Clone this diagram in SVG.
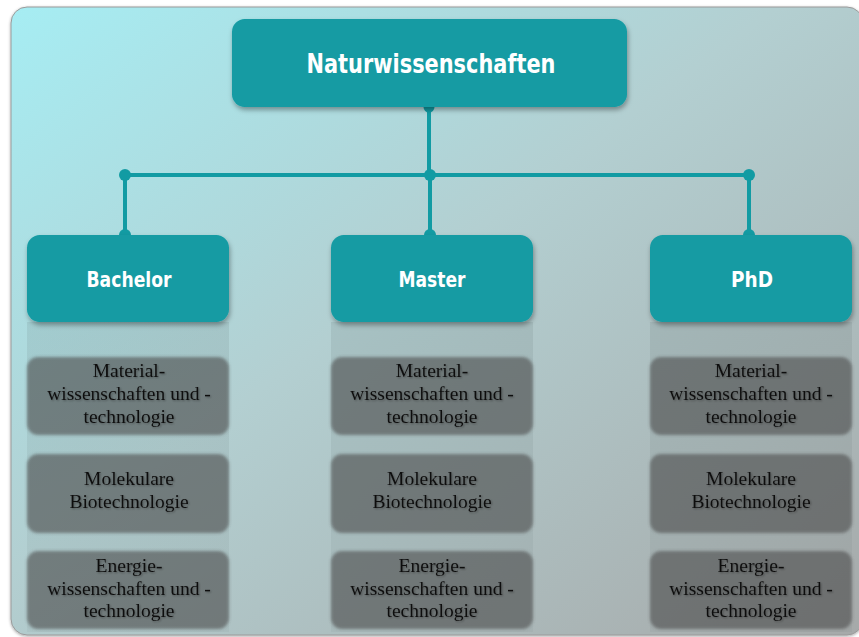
<svg xmlns="http://www.w3.org/2000/svg" width="859" height="637" viewBox="0 0 859 637">
  <defs>
    <linearGradient id="panelFill" x1="0" y1="0" x2="1" y2="1">
      <stop offset="0" stop-color="#a6edf3"/>
      <stop offset="0.45" stop-color="#b3cfd1"/>
      <stop offset="1" stop-color="#a6a9a9"/>
    </linearGradient>
    <linearGradient id="columnFade" x1="0" y1="0" x2="0" y2="1">
      <stop offset="0" stop-color="#4a5a5a" stop-opacity="0.12"/>
      <stop offset="1" stop-color="#4a5a5a" stop-opacity="0.06"/>
    </linearGradient>
    <filter id="panelShadow" x="-5%" y="-5%" width="110%" height="110%">
      <feDropShadow dx="0" dy="1" stdDeviation="1.5" flood-color="#000" flood-opacity="0.35"/>
    </filter>
    <filter id="boxShadow" x="-10%" y="-20%" width="120%" height="150%">
      <feDropShadow dx="1" dy="3" stdDeviation="2.5" flood-color="#000" flood-opacity="0.35"/>
    </filter>
    <filter id="soft" x="-10%" y="-20%" width="120%" height="140%">
      <feGaussianBlur stdDeviation="1.6"/>
    </filter>
    <filter id="textGlow" x="-10%" y="-30%" width="120%" height="160%">
      <feGaussianBlur in="SourceAlpha" stdDeviation="1.2" result="b"/>
      <feOffset dx="0.5" dy="1" in="b" result="o"/>
      <feComponentTransfer in="o" result="s"><feFuncA type="linear" slope="0.35"/></feComponentTransfer>
      <feMerge><feMergeNode in="s"/><feMergeNode in="SourceGraphic"/></feMerge>
    </filter>
    <style>
      .teal { fill: #129ba3; }
      .head { font-family: "DejaVu Sans", Verdana, sans-serif; font-weight: bold; fill: #ffffff; text-anchor: middle; }
      .sub { fill: #4c4c4c; fill-opacity: 0.6; }
      .subText { font-family: "Liberation Serif", "Times New Roman", serif; font-size: 19.5px; fill: #111111; text-anchor: middle; }
      .link { stroke: #129ba3; stroke-width: 4; fill: none; }
      .dot { fill: #129ba3; }
    </style>
  </defs>

  <rect x="0" y="0" width="859" height="637" fill="#ffffff"/>
  <!-- background panel -->
  <rect x="11" y="7" width="852" height="628" rx="16" fill="url(#panelFill)" stroke="#9a9a9a" stroke-width="1" filter="url(#panelShadow)"/>

  <!-- faint columns below the level-two boxes -->
  <g id="columns">
    <rect x="27" y="322" width="202" height="310" fill="url(#columnFade)"/>
    <rect x="331" y="322" width="202" height="310" fill="url(#columnFade)"/>
    <rect x="650" y="322" width="202" height="310" fill="url(#columnFade)"/>
  </g>

  <!-- connectors -->
  <g id="connectors">
    <path class="link" d="M429 107 V175 M125 175 H749 M125 175 V235 M430 175 V235 M749 175 V235"/>
    <circle class="dot" cx="429" cy="107" r="5.5"/>
    <circle class="dot" cx="125" cy="175" r="6"/>
    <circle class="dot" cx="430" cy="175" r="6"/>
    <circle class="dot" cx="749" cy="175" r="6"/>
    <circle class="dot" cx="125" cy="235" r="6"/>
    <circle class="dot" cx="430" cy="235" r="6"/>
    <circle class="dot" cx="749" cy="235" r="6"/>
  </g>

  <g id="root">
    <rect class="teal" x="232" y="19" width="395" height="88" rx="13" filter="url(#boxShadow)"/>
    <text class="head" x="431" y="73" font-size="27" textLength="249" lengthAdjust="spacingAndGlyphs">Naturwissenschaften</text>
  </g>

  <g id="bachelor">
    <rect class="teal" x="27" y="235" width="202" height="87" rx="13" filter="url(#boxShadow)"/>
    <text class="head" x="129" y="287" font-size="22" textLength="85" lengthAdjust="spacingAndGlyphs">Bachelor</text>
  </g>
  <g id="master">
    <rect class="teal" x="331" y="235" width="202" height="87" rx="13" filter="url(#boxShadow)"/>
    <text class="head" x="432" y="287" font-size="22" textLength="67" lengthAdjust="spacingAndGlyphs">Master</text>
  </g>
  <g id="phd">
    <rect class="teal" x="650" y="235" width="202" height="87" rx="13" filter="url(#boxShadow)"/>
    <text class="head" x="752" y="287" font-size="22" textLength="42" lengthAdjust="spacingAndGlyphs">PhD</text>
  </g>

  <!-- Bachelor programmes -->
  <g id="b-material">
    <rect class="sub" x="27" y="357" width="202" height="78" rx="11" filter="url(#soft)"/>
    <text class="subText" x="129" filter="url(#textGlow)"><tspan x="129" y="377">Material-</tspan><tspan x="129" y="400">wissenschaften und -</tspan><tspan x="129" y="423">technologie</tspan></text>
  </g>
  <g id="b-bio">
    <rect class="sub" x="27" y="454" width="202" height="79" rx="11" filter="url(#soft)"/>
    <text class="subText" x="129" filter="url(#textGlow)"><tspan x="129" y="485">Molekulare</tspan><tspan x="129" y="508">Biotechnologie</tspan></text>
  </g>
  <g id="b-energy">
    <rect class="sub" x="27" y="551" width="202" height="78" rx="11" filter="url(#soft)"/>
    <text class="subText" x="129" filter="url(#textGlow)"><tspan x="129" y="572">Energie-</tspan><tspan x="129" y="595">wissenschaften und -</tspan><tspan x="129" y="617">technologie</tspan></text>
  </g>

  <!-- Master programmes -->
  <g id="m-material">
    <rect class="sub" x="331" y="357" width="202" height="78" rx="11" filter="url(#soft)"/>
    <text class="subText" x="432" filter="url(#textGlow)"><tspan x="432" y="377">Material-</tspan><tspan x="432" y="400">wissenschaften und -</tspan><tspan x="432" y="423">technologie</tspan></text>
  </g>
  <g id="m-bio">
    <rect class="sub" x="331" y="454" width="202" height="79" rx="11" filter="url(#soft)"/>
    <text class="subText" x="432" filter="url(#textGlow)"><tspan x="432" y="485">Molekulare</tspan><tspan x="432" y="508">Biotechnologie</tspan></text>
  </g>
  <g id="m-energy">
    <rect class="sub" x="331" y="551" width="202" height="78" rx="11" filter="url(#soft)"/>
    <text class="subText" x="432" filter="url(#textGlow)"><tspan x="432" y="572">Energie-</tspan><tspan x="432" y="595">wissenschaften und -</tspan><tspan x="432" y="617">technologie</tspan></text>
  </g>

  <!-- PhD programmes -->
  <g id="p-material">
    <rect class="sub" x="650" y="357" width="202" height="78" rx="11" filter="url(#soft)"/>
    <text class="subText" x="751" filter="url(#textGlow)"><tspan x="751" y="377">Material-</tspan><tspan x="751" y="400">wissenschaften und -</tspan><tspan x="751" y="423">technologie</tspan></text>
  </g>
  <g id="p-bio">
    <rect class="sub" x="650" y="454" width="202" height="79" rx="11" filter="url(#soft)"/>
    <text class="subText" x="751" filter="url(#textGlow)"><tspan x="751" y="485">Molekulare</tspan><tspan x="751" y="508">Biotechnologie</tspan></text>
  </g>
  <g id="p-energy">
    <rect class="sub" x="650" y="551" width="202" height="78" rx="11" filter="url(#soft)"/>
    <text class="subText" x="751" filter="url(#textGlow)"><tspan x="751" y="572">Energie-</tspan><tspan x="751" y="595">wissenschaften und -</tspan><tspan x="751" y="617">technologie</tspan></text>
  </g>
</svg>
